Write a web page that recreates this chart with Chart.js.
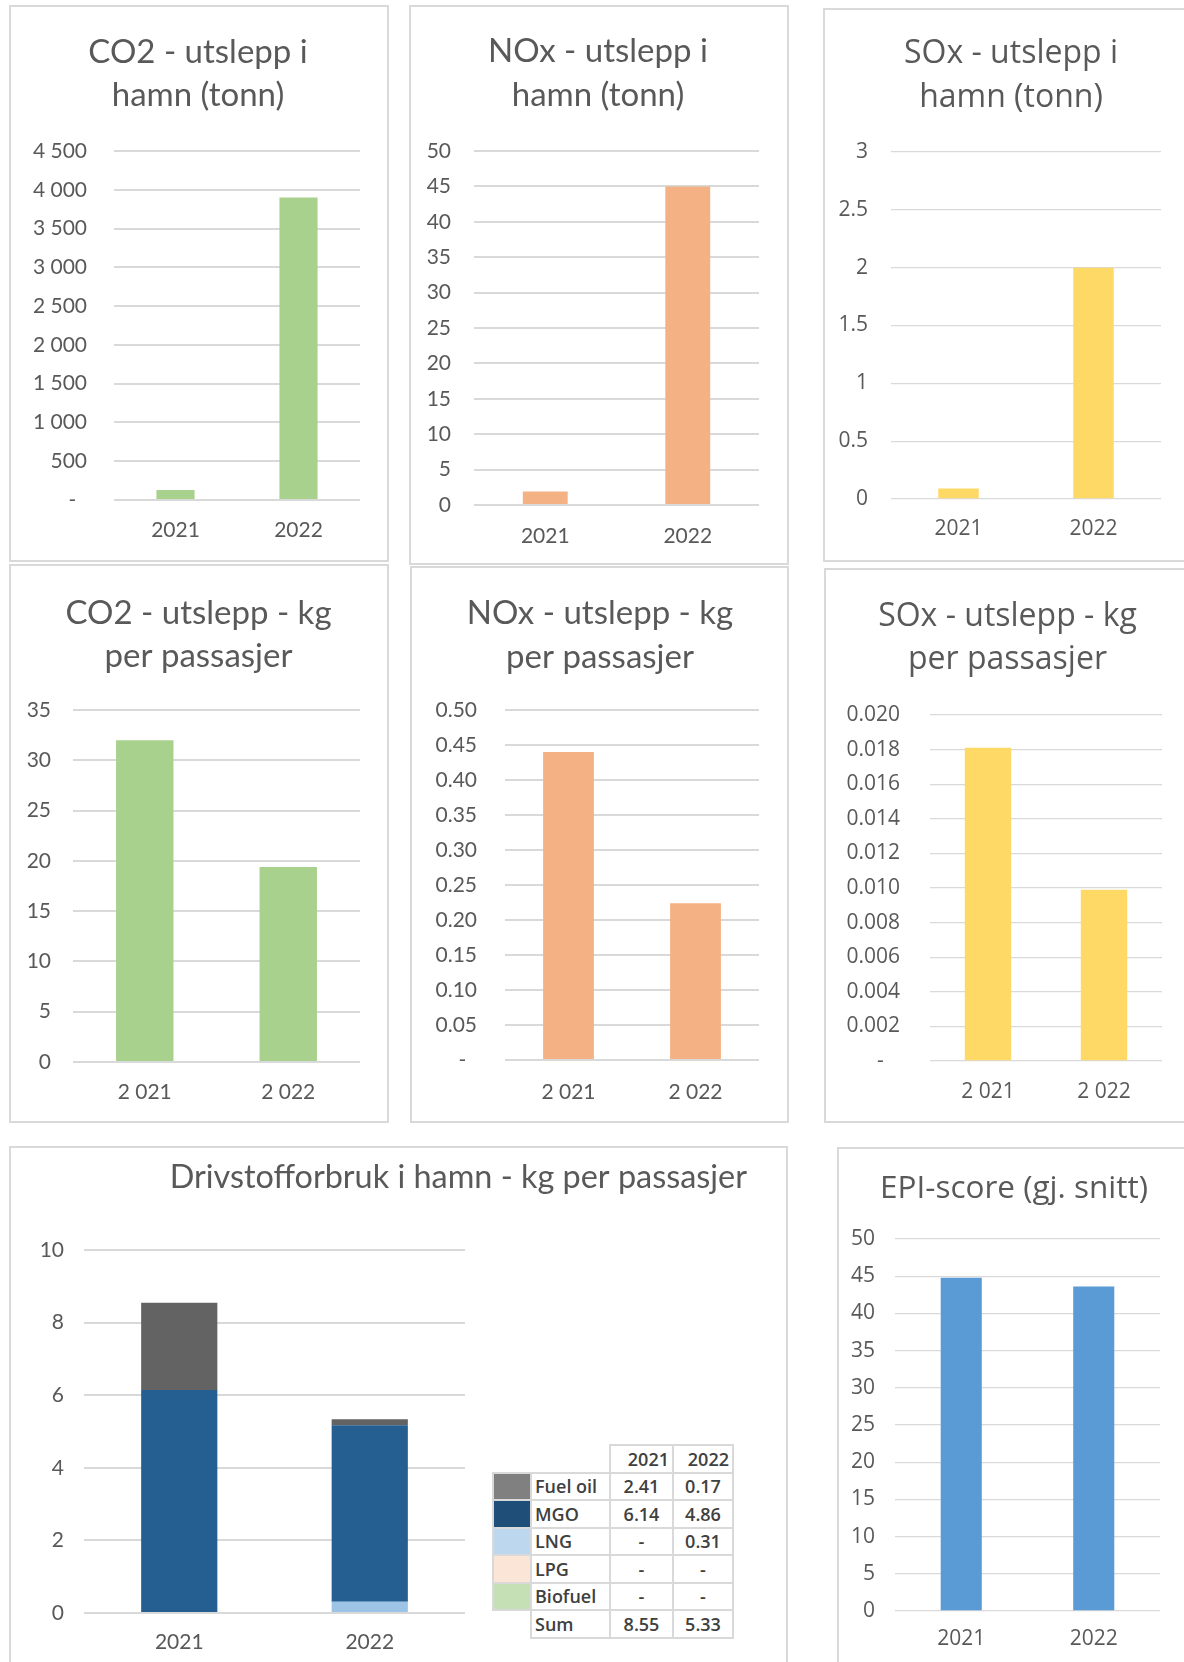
<!DOCTYPE html>
<html lang="no">
<head>
<meta charset="utf-8">
<title>Utslepp i hamn</title>
<script src="https://cdn.jsdelivr.net/npm/chart.js@4.4.1/dist/chart.umd.min.js"></script>
<style>
  html, body { margin: 0; padding: 0; background: #ffffff; }
  body { position: relative; width: 1184px; height: 1662px; overflow: hidden; }
  .panel { position: absolute; box-sizing: border-box; border: 2px solid #d9d9d9; }
  .panel canvas { position: absolute; left: -2px; top: -2px; }
  #fuel-table { position: absolute; left: 492px; top: 1444px; border-collapse: collapse; table-layout: fixed;
    font-family: 'Open Sans', sans-serif; font-weight: 600; font-size: 18px; color: #404040; }
  #fuel-table tr { height: 27.5px; }
  #fuel-table td { border: 2px solid #d9d9d9; padding: 0; text-align: center; line-height: 20px; white-space: nowrap; }
  #fuel-table td.name { text-align: left; padding-left: 3px; }
  #fuel-table td.head { text-align: right; padding-right: 3px; }
  #fuel-table td.blank { border: none; }
</style>
</head>
<body>
<table id="fuel-table">
  <colgroup><col style="width:38px"><col style="width:79px"><col style="width:63px"><col style="width:60px"></colgroup>
  <tbody></tbody>
</table>
<script>
// data
const years = ['2021', '2022'];
const yearsSpaced = ['2 021', '2 022'];

const co2Tonn = [130, 3900];
const noxTonn = [1.9, 45];
const soxTonn = [0.09, 2.0];

const co2PerPassenger = [32.0, 19.4];
const noxPerPassenger = [0.44, 0.224];
const soxPerPassenger = [0.0181, 0.0099];

const fuelNames = ['Fuel oil', 'MGO', 'LNG', 'LPG', 'Biofuel'];
const fuelOil = [2.41, 0.17];
const mgo = [6.14, 4.86];
const lng = [0, 0.31];
const lpg = [0, 0];
const biofuel = [0, 0];
const fuelSum = [8.55, 5.33];

const epiScore = [44.8, 43.6];

const TEXT = '#595959';
const GRID = '#d9d9d9';
const GREEN = '#a9d18e';
const ORANGE = '#f4b183';
const YELLOW = '#ffd966';
const BLUE = '#5b9bd5';

const fuelBarColors = ['#636363', '#255e91', '#9dc3e6', '#fbe5d6', '#c5e0b4'];
const fuelKeyColors = ['#808080', '#1f4e79', '#bdd7ee', '#fbe5d6', '#c5e0b4'];

// zero is shown as an accounting dash, padded on the right like Excel does
function spaced(v) {
    return v === 0 ? '-  ' : String(v).replace(/\B(?=(\d{3})+(?!\d))/g, ' ');
}
function plain(v) {
    return String(Math.round(v * 1000) / 1000);
}
function fixed(n, dash) {
    return function (v) {
        return Math.abs(v) < 1e-9 ? dash : v.toFixed(n);
    };
}

function makeBar(spec) {
    const [bx, by, bw, bh] = spec.box;
    const panel = document.createElement('div');
    panel.className = 'panel';
    panel.style.left = bx + 'px';
    panel.style.top = by + 'px';
    panel.style.width = bw + 'px';
    panel.style.height = bh + 'px';
    const canvas = document.createElement('canvas');
    canvas.width = bw;
    canvas.height = bh;
    panel.appendChild(canvas);
    document.body.appendChild(panel);

    const t = spec.title;
    let padLeft = 0;
    let padRight = 0;
    if (t.align === 'end') {
        padRight = bx + bw - t.x;
    } else {
        const c = t.x - bx;
        if (c * 2 <= bw) {
            padRight = bw - 2 * c;
        } else {
            padLeft = 2 * c - bw;
        }
    }
    const titleTop = t.y - by - t.lh / 2;
    const titleBottom = spec.plot.top - by - titleTop - t.lh * t.text.length;
    const tickFont = { family: spec.font, size: spec.tickSize };

    return new Chart(canvas, {
        type: 'bar',
        data: { labels: spec.labels, datasets: spec.datasets },
        options: {
            responsive: false,
            animation: false,
            layout: { padding: { top: 0, bottom: 0, left: padLeft, right: padRight } },
            datasets: {
                bar: { categoryPercentage: 1, barPercentage: spec.barPct, borderWidth: 0 }
            },
            plugins: {
                legend: { display: false },
                tooltip: { enabled: false },
                title: {
                    display: true,
                    text: t.text,
                    align: t.align || 'center',
                    color: TEXT,
                    font: { family: spec.font, size: t.size, weight: 'normal', lineHeight: t.lh + 'px' },
                    padding: { top: titleTop, bottom: titleBottom }
                }
            },
            scales: {
                x: {
                    stacked: !!spec.stacked,
                    grid: { display: false, drawTicks: false },
                    border: { display: false },
                    ticks: {
                        color: TEXT,
                        font: tickFont,
                        maxRotation: 0,
                        autoSkip: false,
                        padding: spec.catY - spec.plot.bottom - spec.tickSize * 0.6
                    },
                    afterFit: function (s) { s.height = by + bh - spec.plot.bottom; }
                },
                y: {
                    stacked: !!spec.stacked,
                    min: 0,
                    max: spec.max,
                    grid: { color: GRID, lineWidth: spec.gridWidth, drawTicks: false },
                    border: { display: false },
                    ticks: {
                        stepSize: spec.step,
                        autoSkip: false,
                        color: TEXT,
                        font: tickFont,
                        padding: spec.plot.left - spec.tickRight,
                        callback: spec.format
                    },
                    afterFit: function (s) { s.width = spec.plot.left - bx - padLeft; }
                },
                spare: {
                    type: 'linear',
                    axis: 'y',
                    position: 'right',
                    grid: { display: false, drawTicks: false },
                    border: { display: false },
                    ticks: { display: false },
                    afterFit: function (s) { s.width = bx + bw - padRight - spec.plot.right; }
                }
            }
        }
    });
}

function single(data, color) {
    return [{ data: data, backgroundColor: color }];
}

makeBar({
    box: [9, 5, 380, 557],
    title: { text: ['CO2 - utslepp i', 'hamn (tonn)'], x: 198, y: 52, lh: 43.5, size: 33 },
    plot: { left: 114, right: 360, top: 151, bottom: 500 },
    tickRight: 87, catY: 530, font: 'Lato', tickSize: 21, gridWidth: 2,
    labels: years, datasets: single(co2Tonn, GREEN), barPct: 0.31,
    max: 4500, step: 500, format: spaced
});

makeBar({
    box: [409, 5, 380, 560],
    title: { text: ['NOx - utslepp i', 'hamn (tonn)'], x: 598, y: 51, lh: 44, size: 33 },
    plot: { left: 474, right: 759, top: 151, bottom: 505 },
    tickRight: 451, catY: 536, font: 'Lato', tickSize: 21, gridWidth: 2,
    labels: years, datasets: single(noxTonn, ORANGE), barPct: 0.315,
    max: 50, step: 5, format: plain
});

makeBar({
    box: [823, 8, 375, 554],
    title: { text: ['SOx - utslepp i', 'hamn (tonn)'], x: 1011, y: 54, lh: 44, size: 32 },
    plot: { left: 891, right: 1161, top: 152, bottom: 499 },
    tickRight: 868, catY: 529, font: 'Open Sans', tickSize: 21, gridWidth: 1.3,
    labels: years, datasets: single(soxTonn, YELLOW), barPct: 0.30,
    max: 3, step: 0.5, format: plain
});

makeBar({
    box: [9, 564, 380, 559],
    title: { text: ['CO2 - utslepp - kg', 'per passasjer'], x: 198.5, y: 613, lh: 43, size: 33 },
    plot: { left: 73, right: 360, top: 710, bottom: 1062 },
    tickRight: 51, catY: 1092.5, font: 'Lato', tickSize: 21, gridWidth: 2,
    labels: yearsSpaced, datasets: single(co2PerPassenger, GREEN), barPct: 0.40,
    max: 35, step: 5, format: plain
});

makeBar({
    box: [410, 566, 379, 557],
    title: { text: ['NOx - utslepp - kg', 'per passasjer'], x: 600, y: 613, lh: 44, size: 33 },
    plot: { left: 505, right: 759, top: 710, bottom: 1060 },
    tickRight: 477, catY: 1092, font: 'Lato', tickSize: 21, gridWidth: 2,
    labels: yearsSpaced, datasets: single(noxPerPassenger, ORANGE), barPct: 0.40,
    max: 0.5, step: 0.05, format: fixed(2, '-  ')
});

makeBar({
    box: [824, 568, 367, 555],
    title: { text: ['SOx - utslepp - kg', 'per passasjer'], x: 1007.5, y: 617, lh: 43, size: 32 },
    plot: { left: 930, right: 1162, top: 715, bottom: 1061 },
    tickRight: 900, catY: 1092.5, font: 'Open Sans', tickSize: 21, gridWidth: 1.3,
    labels: yearsSpaced, datasets: single(soxPerPassenger, YELLOW), barPct: 0.40,
    max: 0.02, step: 0.002, format: fixed(3, '-   ')
});

makeBar({
    box: [9, 1146, 779, 522],
    title: { text: ['Drivstofforbruk i hamn - kg per passasjer'], x: 747, align: 'end', y: 1177.5, lh: 44, size: 32.4 },
    plot: { left: 84, right: 465, top: 1250, bottom: 1613 },
    tickRight: 64, catY: 1642.5, font: 'Lato', tickSize: 21, gridWidth: 2,
    labels: years, stacked: true, barPct: 0.40,
    datasets: [
        { label: fuelNames[2], data: lng, backgroundColor: fuelBarColors[2] },
        { label: fuelNames[1], data: mgo, backgroundColor: fuelBarColors[1] },
        { label: fuelNames[0], data: fuelOil, backgroundColor: fuelBarColors[0] },
        { label: fuelNames[3], data: lpg, backgroundColor: fuelBarColors[3] },
        { label: fuelNames[4], data: biofuel, backgroundColor: fuelBarColors[4] }
    ],
    max: 10, step: 2, format: plain
});

makeBar({
    box: [837, 1147, 354, 521],
    title: { text: ['EPI-score (gj. snitt)'], x: 1014, y: 1189, lh: 44, size: 31.5 },
    plot: { left: 895, right: 1160, top: 1239, bottom: 1611 },
    tickRight: 875, catY: 1639.5, font: 'Open Sans', tickSize: 21, gridWidth: 1.3,
    labels: years, datasets: single(epiScore, BLUE), barPct: 0.31,
    max: 50, step: 5, format: plain
});

// data table next to the stacked chart
function cell(row, text, cls, bg) {
    const td = document.createElement('td');
    if (cls) td.className = cls;
    if (bg) td.style.background = bg;
    td.textContent = text;
    row.appendChild(td);
}
function fuelValue(v) {
    return v === 0 ? '-' : v.toFixed(2);
}
const tbody = document.querySelector('#fuel-table tbody');
const fuelSeries = [fuelOil, mgo, lng, lpg, biofuel];
let tr = document.createElement('tr');
cell(tr, '', 'blank');
cell(tr, '', 'blank');
years.forEach(function (y) { cell(tr, y, 'head'); });
tbody.appendChild(tr);
fuelNames.forEach(function (name, i) {
    const row = document.createElement('tr');
    cell(row, '', '', fuelKeyColors[i]);
    cell(row, name, 'name');
    fuelSeries[i].forEach(function (v) { cell(row, fuelValue(v)); });
    tbody.appendChild(row);
});
tr = document.createElement('tr');
cell(tr, '', 'blank');
cell(tr, 'Sum', 'name');
fuelSum.forEach(function (v) { cell(tr, fuelValue(v)); });
tbody.appendChild(tr);
</script>
</body>
</html>
